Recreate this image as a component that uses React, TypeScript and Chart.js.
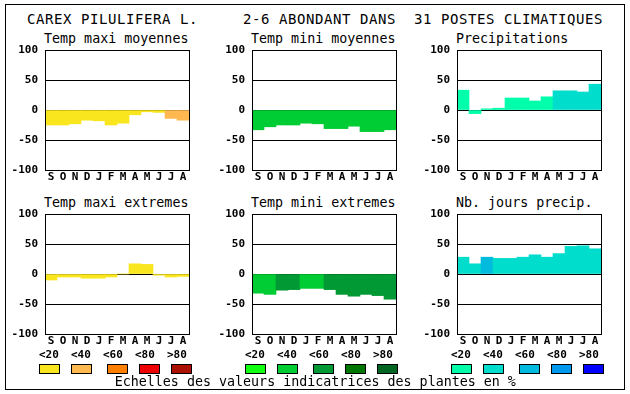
import React, { useEffect, useRef } from 'react';
import { Chart, registerables } from 'chart.js';

Chart.register(...registerables);

// ---- data ----
const MONTHS = ['S', 'O', 'N', 'D', 'J', 'F', 'M', 'A', 'M', 'J', 'J', 'A'];
const Y_MIN = -100;
const Y_MAX = 100;
const Y_STEP = 50;
const LEGEND_LABELS = ['<20', '<40', '<60', '<80', '>80'];

const TMAX_COLORS = ['#FAE61E', '#FFB950', '#FF8000', '#EE0000', '#AA1100'];
const TMIN_COLORS = ['#11FF11', '#00CC33', '#009933', '#007700', '#006622'];
const PRECIP_COLORS = ['#00FFAA', '#00DDCC', '#00BBDD', '#0099EE', '#0000FF'];

const TMAX_MOY = [-25, -25, -23, -17, -18, -25, -22, -8, -3, -4, -14, -17];
const TMAX_MOY_CLASS = [0, 0, 0, 0, 0, 0, 0, 0, 0, 0, 1, 1];

const TMIN_MOY = [-33, -28, -25, -25, -22, -23, -31, -31, -27, -36, -36, -33];
const TMIN_MOY_CLASS = [1, 1, 1, 1, 1, 1, 1, 1, 1, 1, 1, 1];

const PRECIP = [33, -6, 2, 3, 20, 20, 15, 22, 32, 32, 30, 43];
const PRECIP_CLASS = [0, 0, 0, 0, 0, 0, 0, 0, 1, 1, 1, 1];

const TMAX_EXT = [-10, -5, -5, -7, -7, -5, 0, 17, 16, -2, -5, -4];
const TMAX_EXT_CLASS = [0, 0, 0, 0, 0, 0, 0, 0, 0, 0, 0, 0];

const TMIN_EXT = [-32, -34, -27, -26, -24, -24, -26, -34, -37, -34, -36, -42];
const TMIN_EXT_CLASS = [1, 1, 2, 2, 1, 1, 2, 2, 2, 2, 2, 2];

const NB_JOURS = [28, 17, 28, 26, 26, 28, 32, 28, 34, 46, 47, 42];
const NB_JOURS_CLASS = [1, 1, 2, 1, 1, 1, 1, 1, 1, 1, 1, 1];

const TITLE_PARTS = ['CAREX PILULIFERA L.', '2-6 ABONDANT DANS', '31 POSTES CLIMATIQUES'];
const FOOTER = 'Echelles des valeurs indicatrices des plantes en %';

// ---- layout ----
const FONT = '"DejaVu Sans Mono", monospace';
const AXIS_W = 40;
const PAD_T = 8;
const PAD_R = 6;
const XAX_H = 16;
const PLOT_W = 144;
const PLOT_H = 120;

type PanelDef = {
  title: string;
  values: number[];
  classes: number[];
  palette: string[];
  left: number;
  top: number;
};

const PANELS: PanelDef[] = [
  { title: 'Temp maxi moyennes', values: TMAX_MOY, classes: TMAX_MOY_CLASS, palette: TMAX_COLORS, left: 45, top: 50 },
  { title: 'Temp mini moyennes', values: TMIN_MOY, classes: TMIN_MOY_CLASS, palette: TMIN_COLORS, left: 252, top: 50 },
  { title: 'Precipitations', values: PRECIP, classes: PRECIP_CLASS, palette: PRECIP_COLORS, left: 457, top: 50 },
  { title: 'Temp maxi extremes', values: TMAX_EXT, classes: TMAX_EXT_CLASS, palette: TMAX_COLORS, left: 45, top: 214 },
  { title: 'Temp mini extremes', values: TMIN_EXT, classes: TMIN_EXT_CLASS, palette: TMIN_COLORS, left: 252, top: 214 },
  { title: 'Nb. jours precip.', values: NB_JOURS, classes: NB_JOURS_CLASS, palette: PRECIP_COLORS, left: 457, top: 214 },
];

const LEGENDS = [
  { palette: TMAX_COLORS, base: 39 },
  { palette: TMIN_COLORS, base: 245 },
  { palette: PRECIP_COLORS, base: 451 },
];
const SWATCH_OFFSETS = [0, 32, 68, 100, 132];

const framePlugin = {
  id: 'frame',
  afterDraw(chart: any) {
    const { ctx, chartArea: a } = chart;
    ctx.save();
    ctx.strokeStyle = '#000';
    ctx.lineWidth = 1;
    ctx.strokeRect(
      Math.round(a.left) + 0.5,
      Math.round(a.top) + 0.5,
      Math.round(a.right - a.left),
      Math.round(a.bottom - a.top)
    );
    ctx.restore();
  },
};

function Panel({ def }: { def: PanelDef }) {
  const ref = useRef<HTMLCanvasElement | null>(null);
  const W = AXIS_W + PLOT_W + PAD_R;
  const H = PAD_T + PLOT_H + XAX_H;
  useEffect(() => {
    if (!ref.current) return;
    const tickFont = { family: FONT, size: 11, weight: 'bold' as const };
    const chart = new Chart(ref.current, {
      type: 'bar',
      data: {
        labels: MONTHS,
        datasets: [
          {
            data: def.values,
            backgroundColor: def.classes.map((c) => def.palette[c]),
            borderWidth: 0,
            barPercentage: 1,
            categoryPercentage: 1,
          },
        ],
      },
      options: {
        animation: false,
        responsive: false,
        maintainAspectRatio: false,
        devicePixelRatio: 1,
        layout: { padding: { left: 0, top: PAD_T, right: PAD_R, bottom: 0 } },
        plugins: { legend: { display: false }, tooltip: { enabled: false }, title: { display: false } },
        scales: {
          x: {
            type: 'category',
            offset: true,
            grid: { display: false, drawTicks: false },
            border: { display: false },
            ticks: { font: tickFont, color: '#000', padding: 1, autoSkip: false, maxRotation: 0, minRotation: 0 },
            afterFit: (s: any) => {
              s.height = XAX_H;
              s.paddingLeft = 0;
              s.paddingRight = 0;
              s.paddingTop = 0;
              s.paddingBottom = 0;
            },
          },
          y: {
            min: Y_MIN,
            max: Y_MAX,
            z: 1,
            grid: { color: '#000', lineWidth: 1, drawTicks: false },
            border: { display: false },
            ticks: { stepSize: Y_STEP, font: tickFont, color: '#000', padding: 7 },
            afterFit: (s: any) => {
              s.width = AXIS_W;
              s.paddingLeft = 0;
              s.paddingRight = 0;
              s.paddingTop = 0;
              s.paddingBottom = 0;
            },
          },
        },
      },
      plugins: [framePlugin],
    } as any);
    return () => chart.destroy();
  }, [def]);
  return (
    <canvas
      ref={ref}
      width={W}
      height={H}
      style={{ position: 'absolute', left: def.left - AXIS_W, top: def.top - PAD_T, width: W, height: H }}
    />
  );
}

const textBase: React.CSSProperties = {
  position: 'absolute',
  fontFamily: FONT,
  color: '#000',
  lineHeight: '1',
  whiteSpace: 'pre',
  margin: 0,
};

export default function App() {
  const titleX = [27, 243, 414];
  return (
    <div style={{ position: 'absolute', left: 0, top: 0, width: 630, height: 394, background: '#fff', overflow: 'hidden' }}>
      <div
        style={{
          position: 'absolute',
          left: 5,
          top: 4,
          width: 620,
          height: 386,
          boxSizing: 'border-box',
          border: '1px solid #000',
        }}
      />
      {TITLE_PARTS.map((t, i) => (
        <div key={i} style={{ ...textBase, left: titleX[i], top: 11.5, fontSize: 14, letterSpacing: '0.57px' }}>
          {t}
        </div>
      ))}
      {PANELS.map((p, i) => (
        <React.Fragment key={i}>
          <div style={{ ...textBase, left: p.left - 1, top: p.top - 18.3, fontSize: 13.33 }}>{p.title}</div>
          <Panel def={p} />
        </React.Fragment>
      ))}
      {LEGENDS.map((lg, i) => (
        <React.Fragment key={i}>
          {LEGEND_LABELS.map((lab, j) => (
            <div
              key={'l' + j}
              style={{ ...textBase, left: lg.base + 32 * j, top: 349, fontSize: 11, fontWeight: 'bold' }}
            >
              {lab}
            </div>
          ))}
          {lg.palette.map((c, j) => (
            <div
              key={'s' + j}
              style={{
                position: 'absolute',
                left: lg.base + SWATCH_OFFSETS[j],
                top: 364,
                width: 21,
                height: 10,
                boxSizing: 'border-box',
                border: '1px solid #000',
                background: c,
              }}
            />
          ))}
        </React.Fragment>
      ))}
      <div style={{ ...textBase, left: 114.7, top: 375.4, fontSize: 13.33 }}>{FOOTER}</div>
    </div>
  );
}
